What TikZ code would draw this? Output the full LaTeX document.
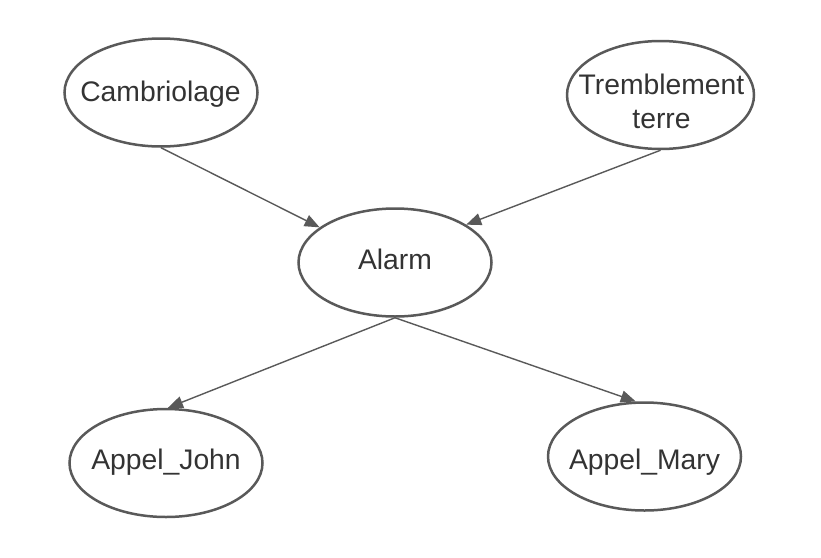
\documentclass[tikz,border=0pt]{standalone}
\usepackage{fontspec}
\setmainfont{Liberation Sans}
\usetikzlibrary{shapes.geometric,arrows.meta}
\definecolor{edgegray}{HTML}{595959}
\definecolor{txtgray}{HTML}{333333}
\begin{document}
\begin{tikzpicture}[x=1pt,y=-1pt,
  bnode/.style={ellipse,draw=edgegray,line width=2.5pt,inner sep=0pt,
    minimum width=193pt,minimum height=108pt},
  lbl/.style={anchor=base,inner sep=0pt,text=txtgray,
    font=\fontsize{28.3}{34}\selectfont},
  link/.style={draw=edgegray,line width=1.4pt,
    -{Triangle[length=15pt,width=12pt]}}]
\useasboundingbox (0,0) rectangle (821,557);
\node[bnode] (c) at (161,92.5) {};
\node[bnode,minimum width=187pt] (t) at (660.5,95) {};
\node[bnode] (a) at (395,262.5) {};
\node[bnode] (j) at (166,463) {};
\node[bnode] (m) at (644.5,456.5) {};
\node[lbl] (cl) at (160.5,101) {Cambriolage};
\node[lbl] (tl1) at (661.5,94) {Tremblement};
\node[lbl] (tl2) at (661.5,128) {terre};
\node[lbl] (al) at (395,269) {Alarm};
\node[lbl] (jl) at (166,469) {Appel\_John};
\node[lbl] (ml) at (644.5,469) {Appel\_Mary};
\draw[link] (c.south) -- (a.155);
\draw[link] (t.south) -- (a.28);
\draw[link] (a.south) -- (j.88);
\draw[link] (a.south) -- (m.99);
\end{tikzpicture}
\end{document}
